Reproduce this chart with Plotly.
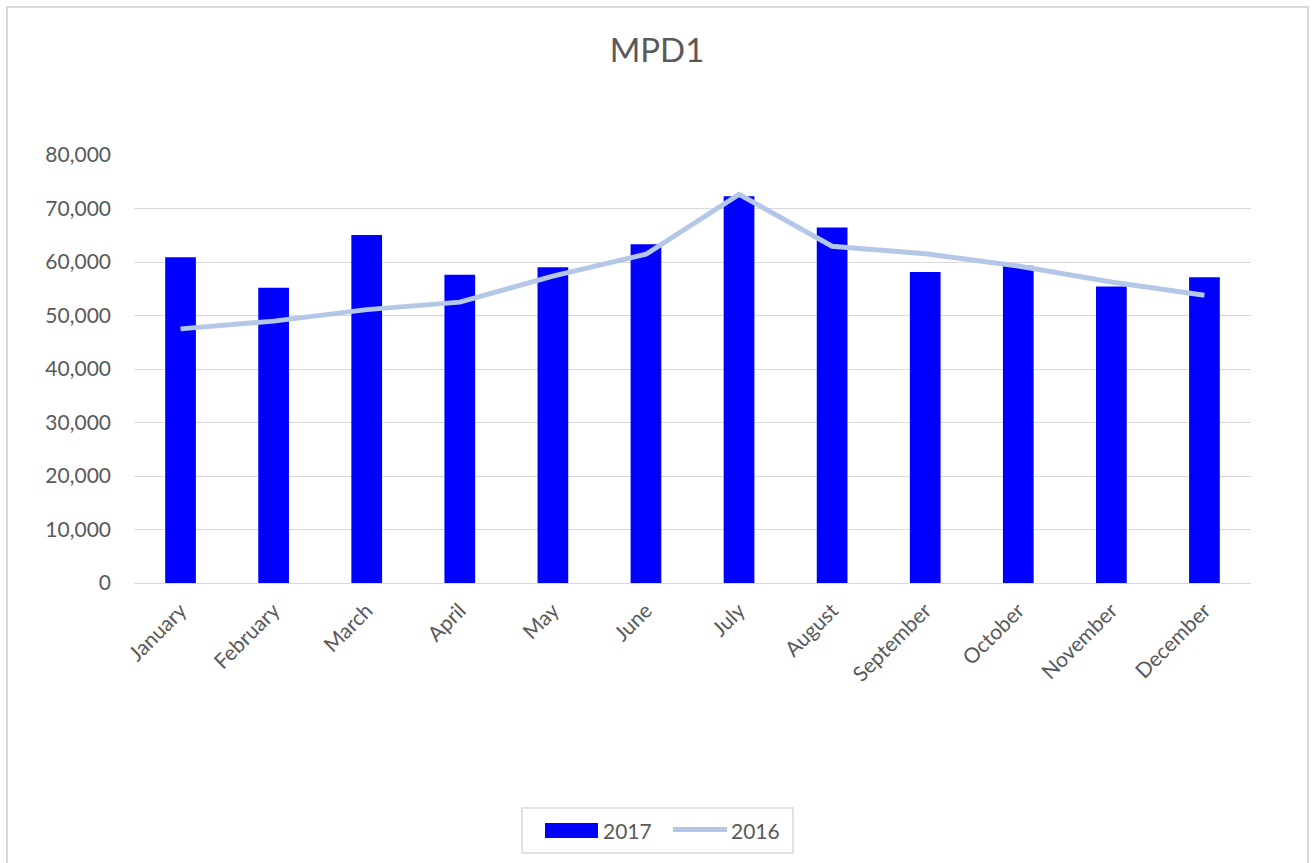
import plotly.graph_objects as go

months = ["January", "February", "March", "April", "May", "June", "July",
          "August", "September", "October", "November", "December"]
values_2017 = [60900, 55200, 65050, 57600, 59000, 63300, 72300, 66450, 58150, 59300, 55400, 57150]
values_2016 = [47500, 48950, 51100, 52500, 57350, 61450, 72650, 62950, 61550, 59250, 56250, 53800]
y_ticks = [0, 10000, 20000, 30000, 40000, 50000, 60000, 70000, 80000]
series_names = ["2017", "2016"]

FONT = "Lato"
GREY = "#595959"
BAR_COLOR = "#0000ff"
LINE_COLOR = "#b4c7e7"
BORDER = "#d9d9d9"

fig = go.Figure()
fig.add_trace(go.Bar(x=months, y=values_2017, name=series_names[0],
                     marker=dict(color=BAR_COLOR, line=dict(width=0))))
fig.add_trace(go.Scatter(x=months, y=values_2016, name=series_names[1], mode="lines",
                         line=dict(color=LINE_COLOR, width=5)))

# pixel -> paper helpers (plot area: x 134..1251, y 155..583)
def px(x):
    return (x - 134) / 1117

def py(y):
    return (583 - y) / 428

fig.update_layout(
    width=1312, height=863,
    margin=dict(l=134, r=61, t=155, b=280),
    paper_bgcolor="white", plot_bgcolor="white",
    bargap=0.67,
    font=dict(family=FONT, color=GREY, size=21),
    title=dict(text="MPD1", x=657/1312, xanchor="center", y=1-50/863, yanchor="middle",
               font=dict(family=FONT, size=33, color=GREY)),
    xaxis=dict(showgrid=False, showline=True, linecolor=BORDER, linewidth=1,
               tickangle=-45, tickfont=dict(size=21, color=GREY), ticks="",
               ticklabelstandoff=6),
    yaxis=dict(range=[0, 80000], tickvals=y_ticks, tickformat=",", showgrid=True,
               gridcolor=BORDER, gridwidth=1, zeroline=False, showline=False,
               tickfont=dict(size=21, color=GREY), ticklabelstandoff=22),
    showlegend=False,
)

# outer chart border
fig.add_shape(type="rect", xref="paper", yref="paper",
              x0=px(7), x1=px(1308), y0=py(880), y1=py(7),
              line=dict(color=BORDER, width=2), fillcolor="rgba(0,0,0,0)", layer="below")

# legend box
fig.add_shape(type="rect", xref="paper", yref="paper",
              x0=px(522), x1=px(793), y0=py(853), y1=py(808),
              line=dict(color=BORDER, width=1.5), fillcolor="white")
# 2017 swatch (bar)
fig.add_shape(type="rect", xref="paper", yref="paper",
              x0=px(545), x1=px(598), y0=py(838), y1=py(823),
              line=dict(width=0), fillcolor=BAR_COLOR)
# 2016 swatch (line)
fig.add_shape(type="line", xref="paper", yref="paper",
              x0=px(673), x1=px(727), y0=py(829.5), y1=py(829.5),
              line=dict(color=LINE_COLOR, width=5))
fig.add_annotation(text=series_names[0], xref="paper", yref="paper",
                   x=px(601), y=py(830), xanchor="left", yanchor="middle",
                   showarrow=False, font=dict(family=FONT, size=21, color=GREY))
fig.add_annotation(text=series_names[1], xref="paper", yref="paper",
                   x=px(729), y=py(830), xanchor="left", yanchor="middle",
                   showarrow=False, font=dict(family=FONT, size=21, color=GREY))

fig.write_html("out.html")
